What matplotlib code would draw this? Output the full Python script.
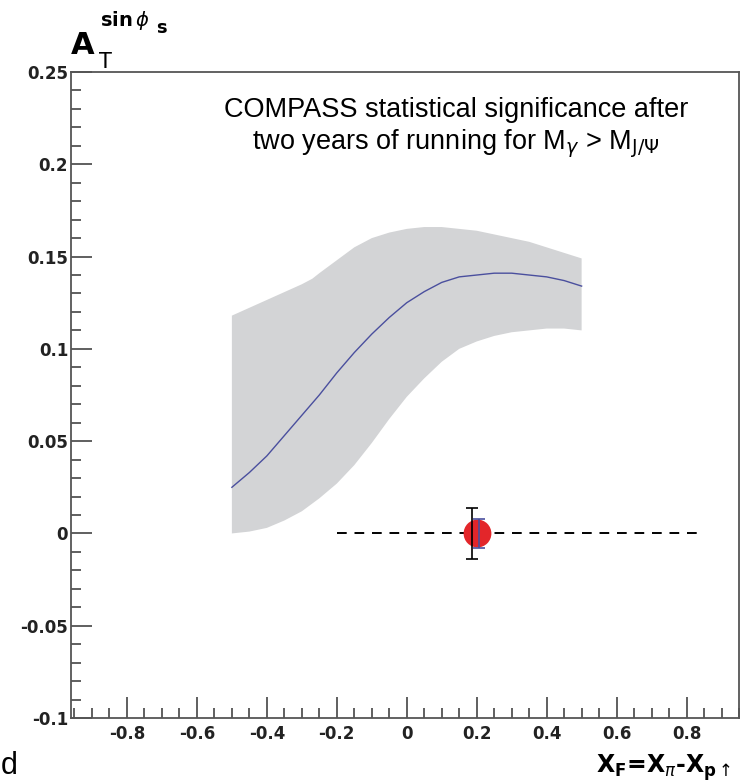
import matplotlib
matplotlib.use('Agg')
import matplotlib.pyplot as plt
from matplotlib.ticker import MultipleLocator

# ------------------------------------------------------------
# Veri
# ------------------------------------------------------------
# gri bant: üst ve alt kenar
band_ust_x = [-0.5, -0.4, -0.3, -0.27, -0.25, -0.2, -0.15, -0.1, -0.05, 0.0, 0.05, 0.1,
              0.15, 0.2, 0.25, 0.3, 0.35, 0.4, 0.45, 0.5]
band_ust_y = [0.118, 0.1265, 0.135, 0.138, 0.141, 0.148, 0.155, 0.160, 0.163, 0.165, 0.166, 0.166,
              0.165, 0.164, 0.162, 0.160, 0.158, 0.155, 0.152, 0.149]
band_alt_x = [-0.5, -0.45, -0.4, -0.35, -0.3, -0.25, -0.2, -0.15, -0.1, -0.05, 0.0, 0.05,
              0.1, 0.15, 0.2, 0.25, 0.3, 0.35, 0.4, 0.45, 0.5]
band_alt_y = [0.0, 0.001, 0.003, 0.007, 0.012, 0.019, 0.027, 0.037, 0.049, 0.062, 0.074, 0.084,
              0.093, 0.100, 0.104, 0.107, 0.109, 0.110, 0.111, 0.111, 0.110]

# mavi eğri
egri_x = [-0.5, -0.45, -0.4, -0.35, -0.3, -0.25, -0.2, -0.15, -0.1, -0.05, 0.0,
          0.05, 0.1, 0.15, 0.2, 0.25, 0.3, 0.35, 0.4, 0.45, 0.5]
egri_y = [0.025, 0.033, 0.042, 0.053, 0.064, 0.075, 0.087, 0.098, 0.108, 0.117, 0.125,
          0.131, 0.136, 0.139, 0.140, 0.141, 0.141, 0.140, 0.139, 0.137, 0.134]

# COMPASS noktası ve hata çubukları
nokta_x, nokta_y = 0.2, 0.0
hata_siyah, hata_mavi = 0.014, 0.008
kesik_x = [-0.2, 0.84]
kesik_y = [0.0, 0.0]

x_ticks = [-0.8, -0.6, -0.4, -0.2, 0.0, 0.2, 0.4, 0.6, 0.8]
x_labels = ['-0.8', '-0.6', '-0.4', '-0.2', '0', '0.2', '0.4', '0.6', '0.8']
y_ticks = [-0.1, -0.05, 0.0, 0.05, 0.1, 0.15, 0.2, 0.25]
y_labels = ['-0.1', '-0.05', '0', '0.05', '0.1', '0.15', '0.2', '0.25']

# ------------------------------------------------------------
W, H = 748, 783
fig = plt.figure(figsize=(W / 100, H / 100), dpi=100)
ax = fig.add_axes([71 / W, 1 - 718 / H, (739 - 71) / W, (718 - 72) / H])

poly_x = band_ust_x + band_alt_x[::-1]
poly_y = band_ust_y + band_alt_y[::-1]
ax.fill(poly_x, poly_y, color='#d3d4d6', lw=0, zorder=1)
ax.plot(egri_x, egri_y, color='#4a4f9e', lw=1.0, zorder=2)

ax.plot(kesik_x, kesik_y, color='black', lw=1.4, linestyle=(0, (5, 4)), zorder=3)
ax.plot([nokta_x], [nokta_y], 'o', color='#e3262a', markersize=20, markeredgewidth=0, zorder=4)
ax.errorbar([nokta_x - 0.012], [nokta_y], yerr=[hata_siyah], fmt='none', ecolor='black',
            elinewidth=1.2, capsize=4, capthick=1.2, zorder=5)
ax.errorbar([nokta_x + 0.006], [nokta_y], yerr=[hata_mavi], fmt='none', ecolor='#4a4f9e',
            elinewidth=1.2, capsize=4, capthick=1.2, zorder=5)

ax.set_xlim(-0.96, 0.95)
ax.set_ylim(-0.1, 0.25)

ax.set_xticks(x_ticks)
ax.set_xticklabels(x_labels)
ax.set_yticks(y_ticks)
ax.set_yticklabels(y_labels)
ax.xaxis.set_minor_locator(MultipleLocator(0.05))
ax.yaxis.set_minor_locator(MultipleLocator(0.01))
ax.tick_params(which='both', direction='in', top=False, right=False, color='#444444', width=1.2)
ax.tick_params(which='major', length=15)
ax.tick_params(which='minor', length=7)
ax.tick_params(axis='y', pad=2)
ax.tick_params(axis='x', pad=5)
for lab in ax.get_xticklabels() + ax.get_yticklabels():
    lab.set_fontweight('bold')
    lab.set_fontsize(12)
    lab.set_color('#222222')
for sp in ax.spines.values():
    sp.set_color('#555555')
    sp.set_linewidth(1.3)

fig.text(456 / W, 1 - 110 / H, 'COMPASS statistical significance after',
         ha='center', va='center', fontsize=19.5, family='Liberation Sans')
fig.text(456 / W, 1 - 144 / H, r'two years of running for M$_{\gamma}$ > M$_{\mathrm{J/\Psi}}$',
         ha='center', va='center', fontsize=19.5, family='Liberation Sans')

# eksen etiketleri
fig.text(83 / W, 1 - 45 / H, 'A', ha='center', va='center', fontsize=22, fontweight='bold')
fig.text(105 / W, 1 - 62 / H, 'T', ha='center', va='center', fontsize=15)
fig.text(125 / W, 1 - 21 / H, r'sin$\,\phi$', ha='center', va='center', fontsize=14, fontweight='bold')
fig.text(161 / W, 1 - 28 / H, 's', ha='center', va='center', fontsize=13, fontweight='bold')

fig.text(664 / W, 1 - 768 / H, r'X$_{\mathbf{F}}$=X$_{\pi}$-X$_{\mathbf{p}\uparrow}$',
         ha='center', va='center', fontsize=17, fontweight='bold')
fig.text(1 / W, 2 / H, 'd', ha='left', va='bottom', fontsize=22, family='Liberation Sans')

plt.savefig('out.png', dpi=100)
